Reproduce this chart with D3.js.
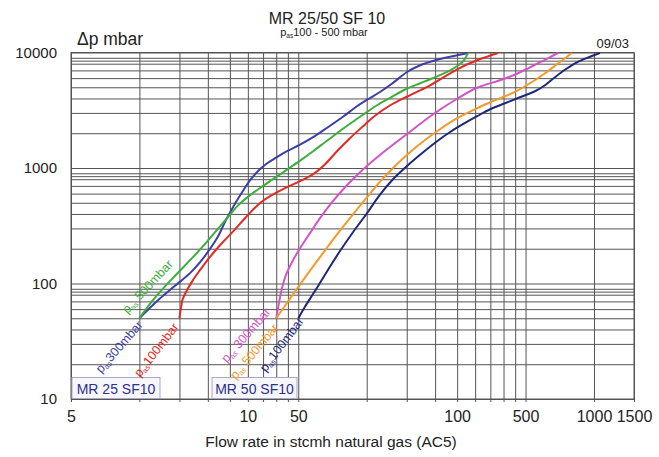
<!DOCTYPE html>
<html><head><meta charset="utf-8">
<script src="https://cdn.jsdelivr.net/npm/d3@7"></script>
<style>
html,body{margin:0;padding:0;background:#fff;}
svg{display:block;font-family:"Liberation Sans",Arial,sans-serif;}
</style></head>
<body><svg id="c" width="659" height="457"></svg>
<script>
// ---- data (x in chart flow units, y in mbar) ----
const xGrid = [5,10,15,20,25,30,35,40,45,50,100,150,200,250,300,350,400,450,500,1000,1500];
const yGrid = [10,20,30,40,50,60,70,80,85,90,100,200,300,400,500,600,700,800,850,900,1000,2000,3000,4000,5000,6000,7000,8000,8500,9000,10000];
const xTickValues = [5,30,50,250,500,1000,1500];
const xTickLabels = ["5","10","50","100","500","1000","1500"];
const yTickValues = [10,100,1000,10000];
const yTickLabels = ["10","100","1000","10000"];

const mr25_300_x = [10,11.1,12.3,14.3,16.7,18.5,20.4,22.2,24,26.1,28.3,30.7,33.2,36,39.9,44.6,50.9,58.1,67.5,78.6,90.6,100.3,114,129,150,172,204,250,279];
const mr25_300_y = [50,61.3,74,95,123,153,198.5,257,353,477,617,784,938,1079,1228,1397,1591,1847,2254,2778,3424,3897,4526,5361,6743,7752,8648,9462,9900];
const mr25_500_x = [10,11.1,12.3,14.3,17.2,19.4,21.9,24.5,27.1,30.7,34.6,38.7,44.6,50.9,58.1,66.9,80.3,96.3,112,127,150,172,190,216,237,255,268,279];
const mr25_500_y = [50,66.3,84.3,116,169,219,290,375,472,582,689,800,967,1157,1397,1723,2254,2891,3528,4056,4853,5415,5865,6542,7157,7826,8560,9900];
const mr25_100_x = [15,15.2,15.5,16.2,17.2,18.5,20.4,23.1,25.9,29.4,33.9,38.3,43.7,50.9,58.1,65.6,74,84.4,96.3,108,127,150,190,250,306,378];
const mr25_100_y = [50,60,73.3,87.7,107,131,169,224,284,375,496,582,669,769,884,1079,1397,1811,2299,2806,3494,4139,5203,7157,8560,9900];
const mr50_300_x = [40,41.1,42.4,44.1,46.9,50.9,56.3,62.3,70.4,80.3,93.5,114,150,196,250,306,398,458,523,621,694];
const mr50_300_y = [50,67.7,91.2,118,153,202,273,368,506,682,920,1290,1961,2921,3977,4950,5865,6542,7447,8820,9900];
const mr50_500_x = [40,46,53.5,62.3,72.5,84.4,98.3,114,133,155,180,210,250,300,349,406,458,523,609,687,800];
const mr50_500_y = [50,74,112.5,169,252,368,532,754,1037,1370,1740,2166,2697,3226,3709,4178,4663,5415,6607,7906,9900];
const mr50_100_x = [50,53.5,59.2,67.5,76.3,87,100.3,114,130.5,150,175,204,232,265,306,349,406,472,550,609,673,745,842,960,1062];
const mr50_100_y = [50,63,86,131,191,278,406,582,800,1037,1343,1706,2040,2393,2806,3226,3636,4098,4617,5203,6104,7086,8230,9181,9900];

const seriesNames = ["300mbar"," 500mbar","100mbar"," 300mbar"," 500mbar","100mbar"];
const seriesColors = ["#3b3fa6","#3cae3c","#e22a24","#d453c8","#f39a2c","#1f2877"];

// ---- layout ----
const svg = d3.select("#c");
const L=71, R=634, T=52.5, B=399;
const x = d3.scaleLog().domain([5,1500]).range([L,R]);
const y = d3.scaleLog().domain([10,10000]).range([B,T]);
const gridColor="#555";

// grid via axes
const gx = svg.append("g").attr("transform",`translate(0,${B})`)
  .call(d3.axisBottom(x).tickValues(xGrid).tickSize(-(B-T)).tickFormat(""));
gx.select(".domain").remove();
gx.selectAll("line").attr("stroke",gridColor).attr("stroke-width",1);
const gxm = svg.append("g").attr("transform",`translate(0,${B})`)
  .call(d3.axisBottom(x).tickValues(xGrid).tickSize(3).tickFormat(""));
gxm.select(".domain").remove();
gxm.selectAll("line").attr("stroke",gridColor);
const gy = svg.append("g").attr("transform",`translate(${L},0)`)
  .call(d3.axisLeft(y).tickValues(yGrid).tickSize(-(R-L)).tickFormat(""));
gy.select(".domain").remove();
gy.selectAll("line").attr("stroke",gridColor).attr("stroke-width",1);
svg.append("rect").attr("x",L).attr("y",T).attr("width",R-L).attr("height",B-T)
  .attr("fill","none").attr("stroke",gridColor).attr("stroke-width",1);

// tick labels
const ax = svg.append("g").attr("transform",`translate(0,${B})`)
  .call(d3.axisBottom(x).tickValues(xTickValues).tickSize(0).tickPadding(12)
    .tickFormat((d,i)=>xTickLabels[i]));
ax.select(".domain").remove();
ax.selectAll("text").attr("font-size",16)
  .attr("fill","#222").attr("font-family","Liberation Sans, Arial, sans-serif");
const ay = svg.append("g").attr("transform",`translate(${L},0)`)
  .call(d3.axisLeft(y).tickValues(yTickValues).tickSize(0).tickPadding(14)
    .tickFormat((d,i)=>yTickLabels[i]));
ay.select(".domain").remove();
ay.selectAll("text").attr("font-size",15).attr("fill","#222").attr("font-family","Liberation Sans, Arial, sans-serif");

// boxes
function box(x0,x1,label){
  svg.append("rect").attr("x",x0).attr("y",377.5).attr("width",x1-x0).attr("height",21)
    .attr("fill","#f7f7fb").attr("stroke","#a7a7c8").attr("stroke-width",1);
  svg.append("text").attr("x",(x0+x1)/2).attr("y",393.5).attr("text-anchor","middle")
    .attr("font-size",14).attr("fill","#2b2f8f").text(label);
}
box(72,160,"MR 25 SF10");
box(212,297,"MR 50 SF10");

// curves
const sx=[mr25_300_x,mr25_500_x,mr25_100_x,mr50_300_x,mr50_500_x,mr50_100_x];
const sy=[mr25_300_y,mr25_500_y,mr25_100_y,mr50_300_y,mr50_500_y,mr50_100_y];
const line = d3.line().x(d=>x(d[0])).y(d=>y(d[1])).curve(d3.curveCatmullRom.alpha(0.5));
sx.forEach((xs,i)=>{
  const pts = xs.map((v,j)=>[v,sy[i][j]]);
  svg.append("path").datum(pts).attr("d",line).attr("fill","none")
    .attr("stroke",seriesColors[i]).attr("stroke-width",2).attr("stroke-linejoin","round");
});

// curve labels (rotated along start)
const labelPos = [
  {i:0, dx:4,  dy:7,  a:-49, anchor:"end"},
  {i:1, dx:-12,dy:-4, a:-47, anchor:"start"},
  {i:2, dx:0,  dy:9,  a:-52, anchor:"end"},
  {i:3, dx:-5, dy:-6, a:-49, anchor:"end"},
  {i:4, dx:3,  dy:10, a:-50, anchor:"end"},
  {i:5, dx:6,  dy:3,  a:-53, anchor:"end"}
];
labelPos.forEach(p=>{
  const px = x(sx[p.i][0])+p.dx, py = y(sy[p.i][0])+p.dy;
  const t = svg.append("text").attr("transform",`translate(${px},${py}) rotate(${p.a})`)
    .attr("text-anchor",p.anchor).attr("font-size",12.5).attr("fill",seriesColors[p.i]);
  t.append("tspan").text("p");
  t.append("tspan").attr("font-size",7.5).attr("dy",2).text("as");
  t.append("tspan").attr("dy",-2).text(seriesNames[p.i]);
});

// titles
svg.append("text").attr("x",327).attr("y",24).attr("text-anchor","middle").attr("font-size",16).attr("fill","#222").text("MR 25/50 SF 10");
const st = svg.append("text").attr("x",324).attr("y",36).attr("text-anchor","middle").attr("font-size",11).attr("fill","#222");
st.append("tspan").text("p");
st.append("tspan").attr("font-size",6.5).attr("dy",2).text("as");
st.append("tspan").attr("dy",-2).text("100 - 500 mbar");
svg.append("text").attr("x",77).attr("y",45).attr("font-size",17.5).attr("fill","#222").text("\u0394p mbar");
svg.append("text").attr("x",629).attr("y",48).attr("text-anchor","end").attr("font-size",13).attr("fill","#222").text("09/03");
svg.append("text").attr("x",331).attr("y",447).attr("text-anchor","middle").attr("font-size",15.5).attr("fill","#222").text("Flow rate in stcmh natural gas (AC5)");
</script></body></html>
